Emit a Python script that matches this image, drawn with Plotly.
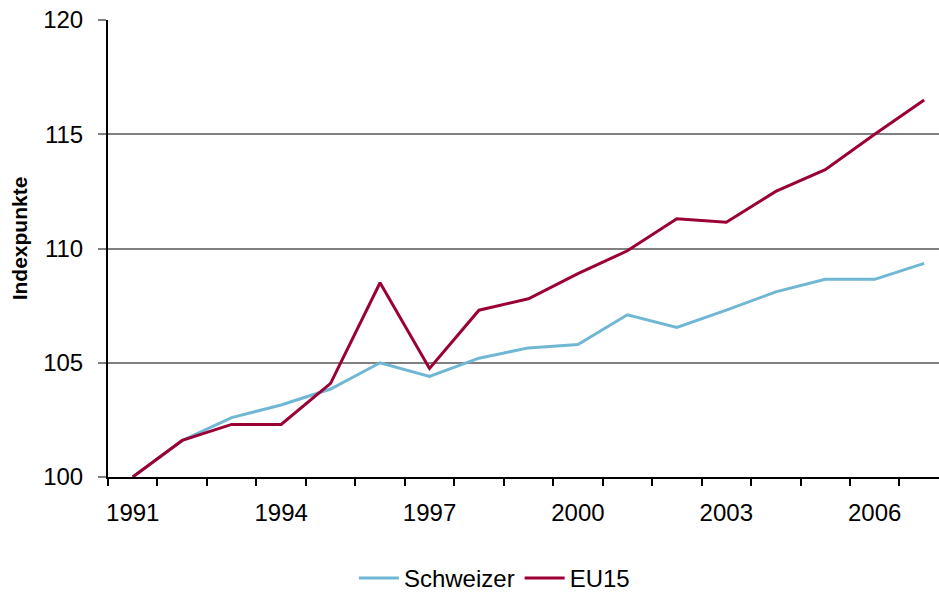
import plotly.graph_objects as go

years = list(range(1991, 2008))
schweizer = [100, 101.6, 102.6, 103.15, 103.85, 105.0, 104.4, 105.2, 105.65,
             105.8, 107.1, 106.55, 107.3, 108.1, 108.65, 108.65, 109.35]
eu15 = [100, 101.6, 102.3, 102.3, 104.1, 108.5, 104.75, 107.3, 107.8,
        108.9, 109.9, 111.3, 111.15, 112.5, 113.45, 115.0, 116.5]
tick_years = [1991, 1994, 1997, 2000, 2003, 2006]

font = "Arial, Liberation Sans, sans-serif"

fig = go.Figure()
fig.add_trace(go.Scatter(x=years, y=schweizer, name="Schweizer", mode="lines",
                         line=dict(color="#6fb7d4", width=3)))
fig.add_trace(go.Scatter(x=years, y=eu15, name="EU15", mode="lines",
                         line=dict(color="#9b0034", width=3)))

fig.update_layout(
    width=939, height=592,
    margin=dict(l=108, r=0, t=20, b=115, autoexpand=False),
    plot_bgcolor="white", paper_bgcolor="white",
    font=dict(family=font, size=24, color="black"),
    showlegend=True,
    legend=dict(orientation="h", x=0.465, xanchor="center", y=-0.222, yanchor="middle",
                font=dict(size=24), itemwidth=40),
    xaxis=dict(range=[1990.5, 2007.3], tickvals=tick_years, ticks="", ticklen=0,
               showgrid=False, zeroline=False, showline=True, linecolor="black", linewidth=2,
               ticklabelstandoff=13,
               minor=dict(tick0=1990.5, dtick=1, ticks="outside", ticklen=7,
                          tickcolor="black", tickwidth=1.5, showgrid=False)),
    yaxis=dict(range=[100, 120], dtick=5, ticks="outside", ticklen=8, tickcolor="#808080",
               tickwidth=1.5, showgrid=True, gridcolor="#808080", gridwidth=1.5,
               zeroline=False, showline=True, linecolor="black", linewidth=2,
               ticklabelstandoff=10),
    annotations=[dict(text="<b>Indexpunkte</b>", x=-0.106, y=0.522, xref="paper", yref="paper",
                      textangle=-90, showarrow=False, font=dict(size=21),
                      xanchor="center", yanchor="middle")],
)

# page body has an 8px default margin; drop it so the chart sits at 0,0
fig.write_html("out.html", config={"displayModeBar": False},
               post_script="document.body.style.margin='0';")
